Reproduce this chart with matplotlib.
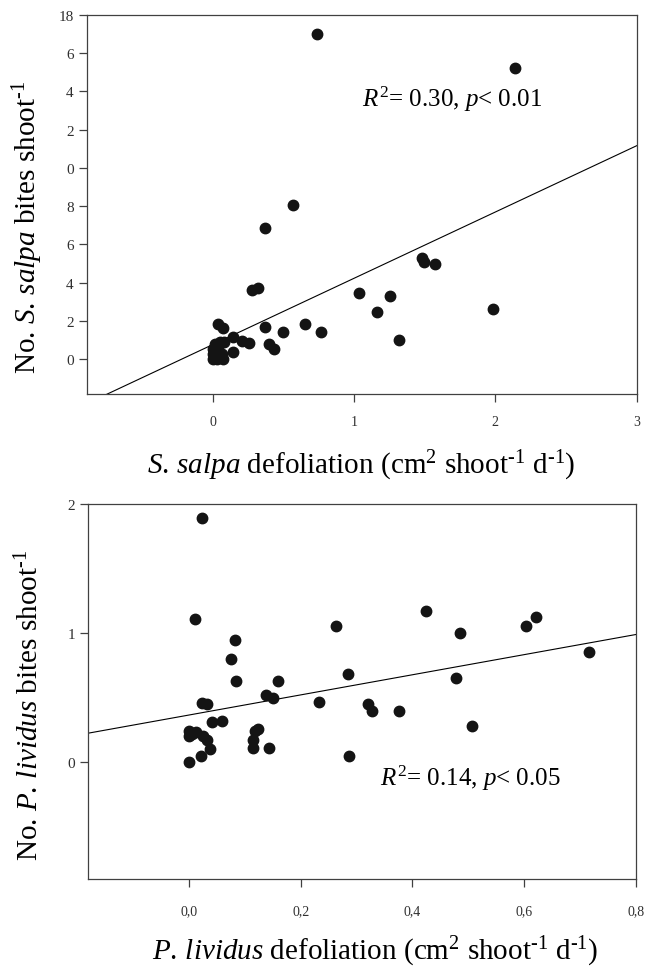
import matplotlib
matplotlib.use('Agg')
import matplotlib.pyplot as plt
import numpy as np

plt.rcParams['font.family'] = ['Liberation Serif', 'DejaVu Serif']
plt.rcParams['mathtext.fontset'] = 'custom'
plt.rcParams['mathtext.rm'] = 'Liberation Serif'
plt.rcParams['mathtext.it'] = 'Liberation Serif:italic'
plt.rcParams['mathtext.bf'] = 'Liberation Serif:bold'

# S. salpa panel
salpa_defol = [0.738, 2.14, 0.568, 0.372, 0.28, 0.323, 1.479, 1.493, 1.571, 1.037,
               1.257, 1.163, 1.984, 1.321, 0.372, 0.40, 0.434, 0.495, 0.651, 0.764,
               0.04, 0.075, 0.146, 0.146, 0.205, 0.257, 0.082, 0.05, 0.016, 0.04,
               0.004, 0.04, 0.004, 0.064, 0.004, 0.03, 0.075, 0.02]
salpa_bites = [17.03, 15.24, 8.05, 6.87, 3.63, 3.73, 5.27, 5.06, 4.97, 3.46,
               3.30, 2.46, 2.62, 0.99, 1.66, 0.80, 0.51, 1.43, 1.83, 1.40,
               1.83, 1.61, 1.13, 0.38, 0.96, 0.84, 0.91, 0.87, 0.79, 0.70,
               0.52, 0.52, 0.26, 0.26, 0.0, 0.0, 0.0, 0.40]
salpa_fit = (0.75, 3.47)  # intercept, slope
salpa_yticks = [0, 2, 4, 6, 8, 10, 12, 14, 16, 18]
salpa_ylabels = ['0', '2', '4', '6', '8', '0', '2', '4', '6', '18']
salpa_xticks = [0, 1, 2, 3]

# P. lividus panel
lividus_defol = [0.0227, 0.0113, 0.083, 0.0746, 0.0836, 0.159, 0.138, 0.151, 0.233, 0.0227,
                 0.0317, 0.0406, 0.060, 0.124, 0.118, 0.114, 0.114, 0.144, 0.0, 0.0,
                 0.0125, 0.0256, 0.033, 0.0376, 0.021, 0.0, 0.424, 0.2625, 0.4845, 0.603,
                 0.6216, 0.716, 0.2846, 0.478, 0.321, 0.328, 0.376, 0.5065, 0.286, 0.006]
lividus_bites = [1.894, 1.11, 0.945, 0.80, 0.63, 0.63, 0.524, 0.498, 0.467, 0.46,
                 0.45, 0.31, 0.315, 0.26, 0.24, 0.175, 0.108, 0.108, 0.245, 0.20,
                 0.233, 0.20, 0.168, 0.103, 0.046, 0.0, 1.168, 1.054, 1.002, 1.056,
                 1.121, 0.857, 0.684, 0.651, 0.449, 0.40, 0.40, 0.279, 0.051, 0.22]
lividus_fit = (0.365, 0.78)
lividus_yticks = [0, 1, 2]
lividus_xticks = [0.0, 0.2, 0.4, 0.6, 0.8]
lividus_xlabels = ['0,0', '0,2', '0,4', '0,6', '0,8']

fig = plt.figure(figsize=(6.47, 9.70), dpi=100)
ax1 = fig.add_axes([0.134, 0.5928, 0.850, 0.3907])
ax2 = fig.add_axes([0.1365, 0.0928, 0.8465, 0.3866])

dot = '#141414'
frame = '#404040'

def style(ax):
    for s in ax.spines.values():
        s.set_color(frame)
        s.set_linewidth(0.9)
    ax.tick_params(direction='out', length=6, width=0.9, color=frame,
                   labelcolor='#303030', labelsize=11, top=False, right=False)

# top
ax1.set_xlim(-0.89, 3)
ax1.set_ylim(-1.83, 18)
xx = np.array(ax1.get_xlim())
ax1.plot(xx, salpa_fit[0] + salpa_fit[1] * xx, color='black', lw=0.8, zorder=2)
ax1.plot(salpa_defol, salpa_bites, 'o', color=dot, ms=7.5, mec=dot, zorder=3)
ax1.set_yticks(salpa_yticks)
ax1.set_yticklabels(salpa_ylabels)
ax1.set_xticks(salpa_xticks)
ax1.text(1.054, 13.66, r'$R^{\mathregular{2}}$= 0.30, $p$< 0.01', fontsize=18, va='center', ha='left')
style(ax1)
ax1.tick_params(axis='x', pad=9, labelsize=10)

# bottom
ax2.set_xlim(-0.18, 0.8)
ax2.set_ylim(-0.905, 2)
xx = np.array(ax2.get_xlim())
ax2.plot(xx, lividus_fit[0] + lividus_fit[1] * xx, color='black', lw=0.8, zorder=2)
ax2.plot(lividus_defol, lividus_bites, 'o', color=dot, ms=7.5, mec=dot, zorder=3)
ax2.set_yticks(lividus_yticks)
ax2.set_xticks(lividus_xticks)
ax2.set_xticklabels(lividus_xlabels)
ax2.text(0.342, -0.116, r'$R^{\mathregular{2}}$= 0.14, $p$< 0.05', fontsize=18, va='center', ha='left')
style(ax2)
ax2.tick_params(axis='x', pad=12, labelsize=10)

# axis labels (hyphen U+2010 keeps the short "-1" look)
sup1 = '$^{\\mathregular{\u2010}\\mathregular{1}}$'
sup2 = r'$^{\mathregular{2}}$'
fig.text(0.043, 1 - 227 / 970, r'No. $S.\,salpa$ bites shoot' + sup1,
         rotation=90, ha='center', va='center', fontsize=21)
fig.text(0.5590, 1 - 466 / 970,
         r'$S.\,salpa$ defoliation (cm' + sup2 + ' shoot' + sup1 + ' d' + sup1 + ')',
         ha='center', va='center', fontsize=21)
fig.text(0.046, 1 - 705 / 970, r'No. $P.\,lividus$ bites shoot' + sup1,
         rotation=90, ha='center', va='center', fontsize=21)
fig.text(0.5800, 1 - 952 / 970,
         r'$P.\,lividus$ defoliation (cm' + sup2 + ' shoot' + sup1 + ' d' + sup1 + ')',
         ha='center', va='center', fontsize=21)

fig.savefig('out.png', dpi=100, facecolor='white')
